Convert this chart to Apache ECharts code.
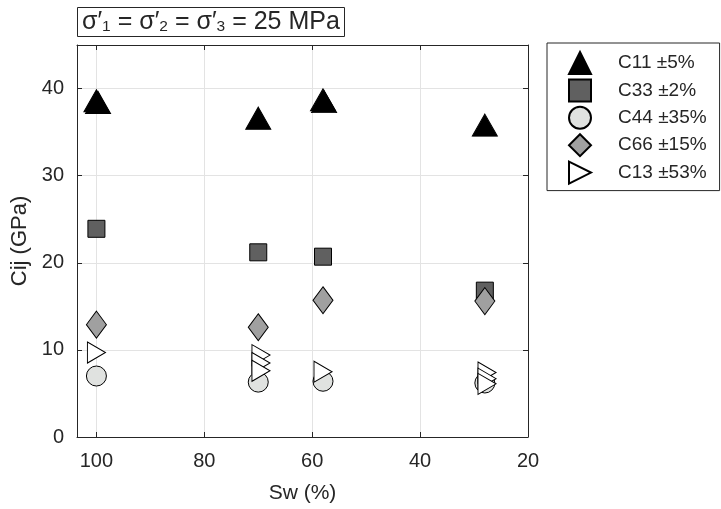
<!DOCTYPE html>
<html>
<head>
<meta charset="utf-8">
<script src="https://cdn.jsdelivr.net/npm/echarts@6/dist/echarts.min.js"></script>
<style>
html,body{margin:0;padding:0;background:#fff;}
#chart{width:721px;height:509px;}
</style>
</head>
<body>
<div id="chart"></div>
<script>
// ---- data (Sw %, Cij GPa) ----
const seriesNames = ['C11 ±5%', 'C33 ±2%', 'C44 ±35%', 'C66 ±15%', 'C13 ±53%'];
const c11 = [[100, 38.6], [99.7, 38.4], [70, 36.6], [58, 38.7], [57.8, 38.5], [28, 35.8]];
const c33 = [[100, 23.9], [70, 21.2], [58, 20.7], [28, 16.8]];
const c44 = [[100, 7.0], [70, 6.3], [58, 6.4], [28, 6.2]];
const c66 = [[100, 12.9], [70, 12.6], [58, 15.7], [28, 15.6]];
const c13 = [[100, 9.7], [69.5, 9.4], [69.5, 8.5], [69.5, 7.6], [58, 7.5], [27.6, 7.4], [27.6, 6.7], [27.6, 6.1]];
const xTicks = [20, 40, 60, 80, 100];
const yTicks = [0, 10, 20, 30, 40];

const FONT = 'Liberation Sans, Arial, Helvetica, sans-serif';
const AX = '#262626';

function makeSeries(name, data, symbol, size, fill) {
  return {
    name: name, type: 'scatter', data: data,
    symbol: symbol, symbolSize: size,
    itemStyle: { color: fill, borderColor: '#000', borderWidth: 1, opacity: 1 },
    emphasis: { disabled: true },
    xAxisIndex: 0, yAxisIndex: 0
  };
}

const chart = echarts.init(document.getElementById('chart'), null, { renderer: 'canvas' });
const baseX = {
  type: 'value', inverse: true, min: 20, max: 103.6, interval: 20,
  axisLine: { show: true, onZero: false, lineStyle: { color: AX, width: 1 } },
  axisTick: { show: true, inside: true, length: 5, lineStyle: { color: AX } },
};
const baseY = {
  type: 'value', min: 0, max: 45, interval: 10,
  axisLine: { show: true, onZero: false, lineStyle: { color: AX, width: 1 } },
  axisTick: { show: true, inside: true, length: 5, lineStyle: { color: AX } },
};
chart.setOption({
  animation: false,
  backgroundColor: '#fff',
  grid: { left: 77, right: 193, top: 45, bottom: 71, containLabel: false },
  title: {
    text: 'σ′{s|1} = σ′{s|2} = σ′{s|3} = 25 MPa',
    left: 77, top: 7,
    padding: [3, 5, 2, 5],
    borderColor: AX, borderWidth: 1,
    textStyle: {
      fontFamily: FONT, fontSize: 25, fontWeight: 'normal', color: AX,
      rich: { s: { fontFamily: FONT, fontSize: 15.5, color: AX, padding: [9, 0, 0, 0] } }
    }
  },
  legend: {
    orient: 'vertical', left: 547, top: 43,
    padding: [8, 13, 6, 21],
    borderColor: AX, borderWidth: 1,
    itemWidth: 22, itemHeight: 22, itemGap: 3.4,
    symbolKeepAspect: false,
    data: seriesNames,
    textStyle: { fontFamily: FONT, fontSize: 19, color: AX, padding: [0, 0, 0, 22] }
  },
  xAxis: [
    Object.assign({}, baseX, {
      position: 'bottom',
      axisLabel: { fontFamily: FONT, fontSize: 20, color: AX, margin: 14,
        formatter: v => (xTicks.indexOf(v) >= 0 ? String(v) : '') },
      splitLine: { show: true, lineStyle: { color: '#e3e3e3', width: 1 } },
      name: 'Sw (%)', nameLocation: 'middle', nameGap: 46,
      nameTextStyle: { fontFamily: FONT, fontSize: 21, color: AX }
    }),
    Object.assign({}, baseX, { position: 'top', axisLabel: { show: false }, splitLine: { show: false } })
  ],
  yAxis: [
    Object.assign({}, baseY, {
      position: 'left',
      axisLabel: { fontFamily: FONT, fontSize: 20, color: AX, margin: 13,
        formatter: v => (yTicks.indexOf(v) >= 0 ? String(v) : '') },
      splitLine: { show: true, lineStyle: { color: '#e3e3e3', width: 1 } },
      name: 'Cij (GPa)', nameLocation: 'middle', nameGap: 45,
      nameTextStyle: { fontFamily: FONT, fontSize: 22, color: AX }
    }),
    Object.assign({}, baseY, { position: 'right', axisLabel: { show: false }, splitLine: { show: false } })
  ],
  series: [
    makeSeries(seriesNames[0], c11, 'triangle', [25, 22], '#000000'),
    makeSeries(seriesNames[1], c33, 'rect', [17, 17], '#606060'),
    makeSeries(seriesNames[2], c44, 'circle', 20, '#e0e2e0'),
    makeSeries(seriesNames[3], c66, 'diamond', [20, 27], '#a0a0a0'),
    makeSeries(seriesNames[4], c13, 'path://M0,0L1,0.5L0,1Z', [18, 21], '#ffffff')
  ]
});
</script>
</body>
</html>
